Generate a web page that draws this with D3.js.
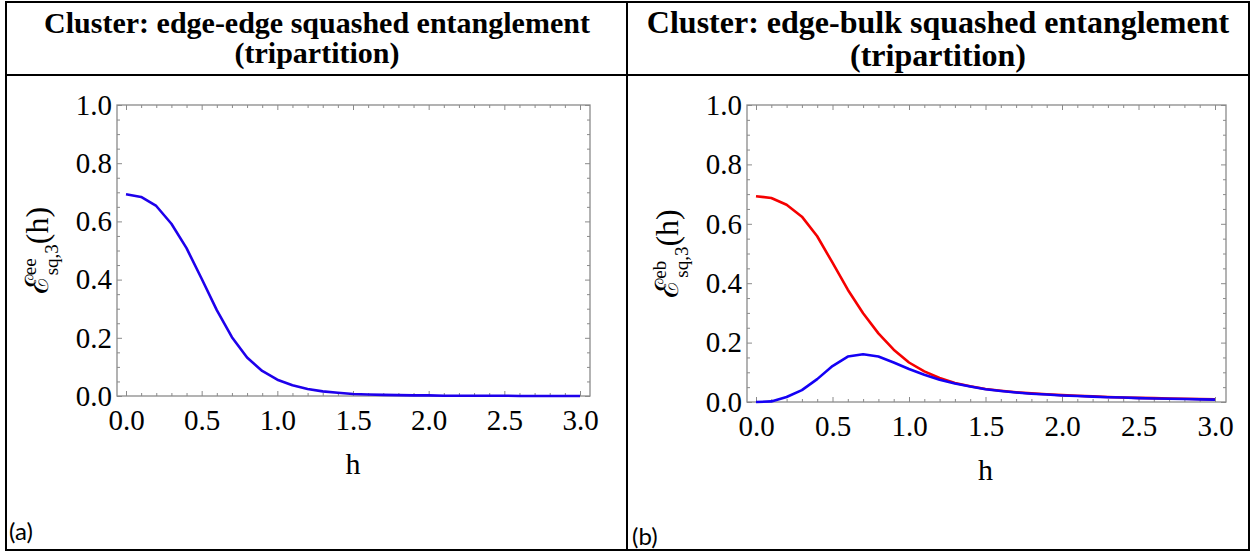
<!DOCTYPE html>
<html lang="en">
<head>
<meta charset="UTF-8">
<title>Cluster squashed entanglement</title>
<script src="https://d3js.org/d3.v7.min.js"></script>
<style>
  body { margin: 0; background: #fff; }
  svg { display: block; }
  .tick text { font-family: "Liberation Serif", "DejaVu Serif", serif; font-size: 29px; fill: #000; }
  .tick line { stroke: #8a8a8a; stroke-width: 1; }
  .head { font-family: "Liberation Serif", serif; font-weight: bold; fill: #000; text-anchor: middle; }
  .cap { font-family: Lato, "Open Sans", sans-serif; font-size: 24px; fill: #000; }
</style>
</head>
<body>
<svg width="1254" height="553"></svg>
<script>
// h values shared by all curves
const hValues = [0.0, 0.1, 0.2, 0.3, 0.4, 0.5, 0.6, 0.7, 0.8, 0.9, 1.0,
                 1.1, 1.2, 1.3, 1.4, 1.5, 1.6, 1.7, 1.8, 1.9, 2.0,
                 2.1, 2.2, 2.3, 2.4, 2.5, 2.6, 2.7, 2.8, 2.9, 3.0];

// (a) edge-edge squashed entanglement
const edgeEdge = [0.693, 0.684, 0.653, 0.592, 0.508, 0.403, 0.295, 0.202, 0.132, 0.086, 0.056,
                  0.037, 0.024, 0.016, 0.011, 0.007, 0.005, 0.004, 0.003, 0.002, 0.002,
                  0.001, 0.001, 0.001, 0.001, 0.001, 0.000, 0.000, 0.000, 0.000, 0.000];

// (b) edge-bulk squashed entanglement, red and blue curves
const edgeBulkRed = [0.693, 0.687, 0.664, 0.624, 0.558, 0.469, 0.378, 0.299, 0.231, 0.176, 0.133,
                     0.103, 0.081, 0.064, 0.053, 0.044, 0.038, 0.033, 0.029, 0.026, 0.023,
                     0.021, 0.019, 0.017, 0.015, 0.014, 0.013, 0.012, 0.011, 0.010, 0.009];
const edgeBulkBlue = [0.000, 0.002, 0.017, 0.040, 0.077, 0.121, 0.153, 0.161, 0.153, 0.133, 0.111,
                      0.092, 0.075, 0.062, 0.052, 0.043, 0.037, 0.032, 0.028, 0.025, 0.022,
                      0.020, 0.018, 0.016, 0.015, 0.013, 0.012, 0.011, 0.010, 0.009, 0.008];

const xMajor = [0, 0.5, 1, 1.5, 2, 2.5, 3];
const xMinor = [0.1, 0.2, 0.3, 0.4, 0.6, 0.7, 0.8, 0.9, 1.1, 1.2, 1.3, 1.4, 1.6, 1.7, 1.8, 1.9,
                2.1, 2.2, 2.3, 2.4, 2.6, 2.7, 2.8, 2.9];
const yMajor = [0, 0.2, 0.4, 0.6, 0.8, 1.0];
const yMinor = [0.05, 0.1, 0.15, 0.25, 0.3, 0.35, 0.45, 0.5, 0.55, 0.65, 0.7, 0.75, 0.85, 0.9, 0.95];

const svg = d3.select("svg");

// table grid
const grid = svg.append("g").attr("stroke", "#000").attr("stroke-width", 2).attr("fill", "none");
grid.append("rect").attr("x", 6).attr("y", 2).attr("width", 1243).attr("height", 548);
grid.append("line").attr("x1", 627).attr("x2", 627).attr("y1", 2).attr("y2", 550);
grid.append("line").attr("x1", 6).attr("x2", 1249).attr("y1", 75).attr("y2", 75);

// headers
function header(cx, size, y1, y2, line1) {
  const g = svg.append("g").attr("class", "head").style("font-size", size + "px");
  g.append("text").attr("x", cx).attr("y", y1).text(line1);
  g.append("text").attr("x", cx).attr("y", y2).text("(tripartition)");
}
header(317, 30, 33, 63, "Cluster: edge-edge squashed entanglement");
header(938, 32, 33, 66, "Cluster: edge-bulk squashed entanglement");

function panel(p) {
  const x = d3.scaleLinear().domain([0, 3]).range([p.x0, p.x3]);
  const y = d3.scaleLinear().domain([0, 1]).range([p.bottom, p.top]);
  const g = svg.append("g");

  const ax = (gen, vals, size, fmt, tx, ty, pad) => {
    const a = gen.tickValues(vals).tickSizeInner(-size).tickSizeOuter(0).tickPadding(pad || 0);
    a.tickFormat(fmt ? d3.format(".1f") : "");
    const s = g.append("g").attr("transform", `translate(${tx},${ty})`).call(a);
    s.select(".domain").remove();
    return s;
  };
  // bottom / top
  ax(d3.axisBottom(x), xMajor, 5, true, 0, p.bottom, 13);
  ax(d3.axisBottom(x), xMinor, 3, false, 0, p.bottom);
  ax(d3.axisTop(x), xMajor, 5, false, 0, p.top);
  ax(d3.axisTop(x), xMinor, 3, false, 0, p.top);
  // left / right
  ax(d3.axisLeft(y), yMajor, 5, true, p.left, 0, 5);
  ax(d3.axisLeft(y), yMinor, 3, false, p.left, 0);
  ax(d3.axisRight(y), yMajor, 5, false, p.right, 0);
  ax(d3.axisRight(y), yMinor, 3, false, p.right, 0);

  g.append("rect")
    .attr("x", p.left).attr("y", p.top)
    .attr("width", p.right - p.left).attr("height", p.bottom - p.top)
    .attr("fill", "none").attr("stroke", "#8a8a8a").attr("stroke-width", 1.3);

  const line = d3.line().x((d, i) => x(hValues[i])).y(d => y(d));
  p.series.forEach(s => {
    g.append("path").datum(s.values)
      .attr("d", line)
      .attr("fill", "none")
      .attr("stroke", s.color)
      .attr("stroke-width", 2.6)
      .attr("stroke-linejoin", "round");
  });

  // axis titles
  g.append("text")
    .attr("x", (p.x0 + p.x3) / 2).attr("y", p.hY)
    .attr("text-anchor", "middle")
    .style("font-family", "Liberation Serif, serif").style("font-size", "30px")
    .text("h");

  const yt = g.append("text")
    .attr("transform", `translate(${p.titleX},${(p.top + p.bottom) / 2}) rotate(-90)`)
    .attr("text-anchor", "middle")
    .style("font-family", "Liberation Serif, DejaVu Serif, serif").style("font-size", "32px");
  yt.append("tspan").text("\u2130");
  yt.append("tspan").attr("dy", -12).style("font-size", "19px").text(p.sup);
  yt.append("tspan").attr("dx", -17).attr("dy", 22).style("font-size", "19px").text("sq,3");
  yt.append("tspan").attr("dy", -10).text("(h)");

  svg.append("text").attr("class", "cap").attr("x", p.capX).attr("y", p.capY).text(p.cap);
}

panel({
  left: 117, right: 590, top: 105, bottom: 396, x0: 126, x3: 580,
  hY: 474, titleX: 48, sup: "ee", cap: "(a)", capX: 9, capY: 540,
  series: [{ values: edgeEdge, color: "rgb(30,0,235)" }]
});
panel({
  left: 747, right: 1226, top: 105, bottom: 402, x0: 756, x3: 1215,
  hY: 480, titleX: 678, sup: "eb", cap: "(b)", capX: 632, capY: 545,
  series: [
    { values: edgeBulkRed, color: "rgb(245,0,0)" },
    { values: edgeBulkBlue, color: "rgb(20,0,245)" }
  ]
});
</script>
</body>
</html>
